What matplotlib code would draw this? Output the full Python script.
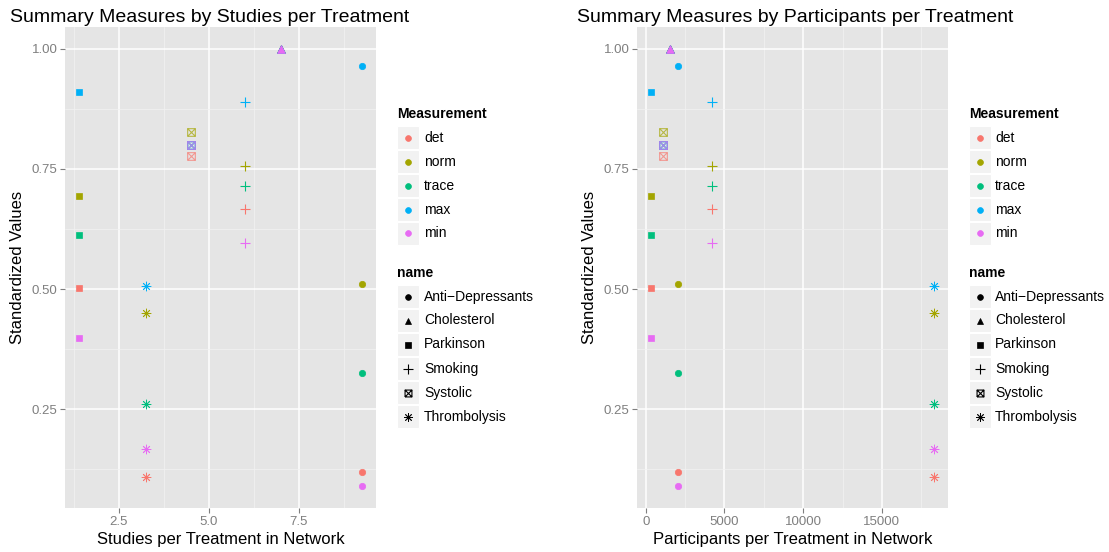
import matplotlib
matplotlib.use("Agg")
import matplotlib.pyplot as plt
from matplotlib.path import Path
from matplotlib.patches import Rectangle
from matplotlib.lines import Line2D
from matplotlib.ticker import FixedLocator

plt.rcParams['font.family'] = ['Liberation Sans', 'DejaVu Sans']

# ---------------- data ----------------
treatments = ["Anti\u2212Depressants", "Cholesterol", "Parkinson", "Smoking", "Systolic", "Thrombolysis"]
studies_per_treatment = [9.25, 7.0, 1.4, 6.0, 4.5, 3.25]
participants_per_treatment = [2040, 1530, 340, 4200, 1120, 18300]

measurements = ["det", "norm", "trace", "max", "min"]
det = [0.119, 1.0, 0.503, 0.666, 0.776, 0.108]
norm = [0.510, 1.0, 0.694, 0.756, 0.826, 0.451]
trace = [0.325, 1.0, 0.613, 0.715, 0.800, 0.261]
max_vals = [0.965, 1.0, 0.911, 0.889, 0.800, 0.506]
min_vals = [0.090, 1.0, 0.399, 0.597, 0.800, 0.168]
values = {"det": det, "norm": norm, "trace": trace, "max": max_vals, "min": min_vals}

colors = {"det": "#F8766D", "norm": "#A3A500", "trace": "#00BF7D", "max": "#00B0F6", "min": "#E76BF3"}

# ---------------- markers ----------------
sqx = Path([(-1, -1), (1, -1), (1, 1), (-1, 1), (-1, -1), (-1, -1), (1, 1), (-1, 1), (1, -1)],
           [Path.MOVETO, Path.LINETO, Path.LINETO, Path.LINETO, Path.LINETO,
            Path.MOVETO, Path.LINETO, Path.MOVETO, Path.LINETO])
marker_spec = {
    "Anti\u2212Depressants": dict(marker='o', ms=4.6, filled=True, mew=0.5),
    "Cholesterol": dict(marker='^', ms=5.5, filled=True, mew=0.5),
    "Parkinson": dict(marker='s', ms=4.4, filled=True, mew=0.5),
    "Smoking": dict(marker='+', ms=7.5, filled=False, mew=0.8),
    "Systolic": dict(marker=sqx, ms=5.5, filled=False, mew=0.8),
    "Thrombolysis": dict(marker=(8, 2, 0), ms=6.8, filled=False, mew=0.6),
}

W, H = 1109, 552
fig = plt.figure(figsize=(W / 100, H / 100), dpi=100)
fig.patch.set_facecolor('white')


def px_axes(x0, y0, x1, y1):
    return fig.add_axes([x0 / W, 1 - y1 / H, (x1 - x0) / W, (y1 - y0) / H])


def style_axes(ax, xmaj, xmin_, xlabels, ymaj, ymin_, ylabels):
    ax.set_facecolor('#E5E5E5')
    for s in ax.spines.values():
        s.set_visible(False)
    ax.xaxis.set_major_locator(FixedLocator(xmaj))
    ax.xaxis.set_minor_locator(FixedLocator(xmin_))
    ax.yaxis.set_major_locator(FixedLocator(ymaj))
    ax.yaxis.set_minor_locator(FixedLocator(ymin_))
    ax.set_xticklabels(xlabels)
    ax.set_yticklabels(ylabels)
    ax.grid(which='major', color='white', lw=1.1)
    ax.grid(which='minor', color='#F2F2F2', lw=0.5)
    ax.set_axisbelow(True)
    ax.tick_params(which='major', length=3.5, width=0.8, color='#7F7F7F', labelcolor='#7F7F7F',
                   labelsize=9.5, pad=2)
    ax.tick_params(which='minor', length=0)


def draw_points(ax, xs):
    for m in measurements:
        for i, t in enumerate(treatments):
            spec = marker_spec[t]
            c = colors[m]
            kw = dict(marker=spec['marker'], ms=spec['ms'], mew=spec['mew'], ls='none', zorder=3)
            if spec['filled']:
                kw.update(mfc=c, mec=c)
            else:
                kw.update(mfc='none', mec=c)
            if t == "Systolic":
                kw.update(alpha=0.7)
            ax.plot([xs[i]], [values[m][i]], **kw)


def expand(vals, frac=0.05):
    lo, hi = min(vals), max(vals)
    r = hi - lo
    return lo - frac * r, hi + frac * r


all_y = det + norm + trace + max_vals + min_vals
ylim = expand(all_y)
ymaj = [0.25, 0.50, 0.75, 1.00]
ymin_ = [0.125, 0.375, 0.625, 0.875]
ylabels = ["0.25", "0.50", "0.75", "1.00"]

# left panel
ax1 = px_axes(65, 27, 376, 508)
draw_points(ax1, studies_per_treatment)
ax1.set_xlim(*expand(studies_per_treatment))
ax1.set_ylim(*ylim)
style_axes(ax1, [2.5, 5.0, 7.5], [1.25, 3.75, 6.25, 8.75], ["2.5", "5.0", "7.5"], ymaj, ymin_, ylabels)
ax1.set_xlabel("Studies per Treatment in Network", fontsize=12, labelpad=3)
ax1.set_ylabel("Standardized Values", fontsize=12, labelpad=5)

# right panel
ax2 = px_axes(637, 27, 948, 508)
draw_points(ax2, participants_per_treatment)
ax2.set_xlim(*expand(participants_per_treatment))
ax2.set_ylim(*ylim)
style_axes(ax2, [0, 5000, 10000, 15000], [2500, 7500, 12500, 17500], ["0", "5000", "10000", "15000"],
           ymaj, ymin_, ylabels)
ax2.set_xlabel("Participants per Treatment in Network", fontsize=12, labelpad=3)
ax2.set_ylabel("Standardized Values", fontsize=12, labelpad=5)

# titles
fig.text(10 / W, 1 - 18 / H, "Summary Measures by Studies per Treatment", fontsize=14, va='center', ha='left')
fig.text(577 / W, 1 - 18 / H, "Summary Measures by Participants per Treatment", fontsize=14, va='center', ha='left')


# legends (drawn manually, ggplot style)
def fx(x):
    return x / W


def fy(y):
    return 1 - y / H


def legend(x0, textx):
    fig.text(fx(x0), fy(114), "Measurement", fontsize=10, fontweight='bold', va='center', ha='left')
    ys = [137.5, 161.5, 185.5, 209.5, 233.5]
    for m, yc in zip(measurements, ys):
        fig.patches.append(Rectangle((fx(x0), fy(yc + 11.5)), 22 / W, 23 / H, transform=fig.transFigure,
                                     facecolor='#F2F2F2', edgecolor='white', lw=0.8))
        fig.lines.append(Line2D([fx(x0 + 11)], [fy(yc)], transform=fig.transFigure, marker='o', ms=4.2,
                                mfc=colors[m], mec=colors[m], mew=0.5, ls='none'))
        fig.text(fx(textx), fy(yc), m, fontsize=10, va='center', ha='left')
    fig.text(fx(x0), fy(273), "name", fontsize=10, fontweight='bold', va='center', ha='left')
    ys2 = [296.5, 320.5, 344.5, 368.5, 392.5, 416.5]
    for t, yc in zip(treatments, ys2):
        spec = marker_spec[t]
        fig.patches.append(Rectangle((fx(x0), fy(yc + 11.5)), 22 / W, 23 / H, transform=fig.transFigure,
                                     facecolor='#F2F2F2', edgecolor='white', lw=0.8))
        kw = dict(marker=spec['marker'], ms=spec['ms'] * 0.9, mew=spec['mew'], ls='none', mec='black',
                  mfc='black' if spec['filled'] else 'none')
        fig.lines.append(Line2D([fx(x0 + 11)], [fy(yc)], transform=fig.transFigure, **kw))
        fig.text(fx(textx), fy(yc), t, fontsize=10, va='center', ha='left')


legend(397, 424)
legend(969, 995)

fig.savefig("out.png", dpi=100)
